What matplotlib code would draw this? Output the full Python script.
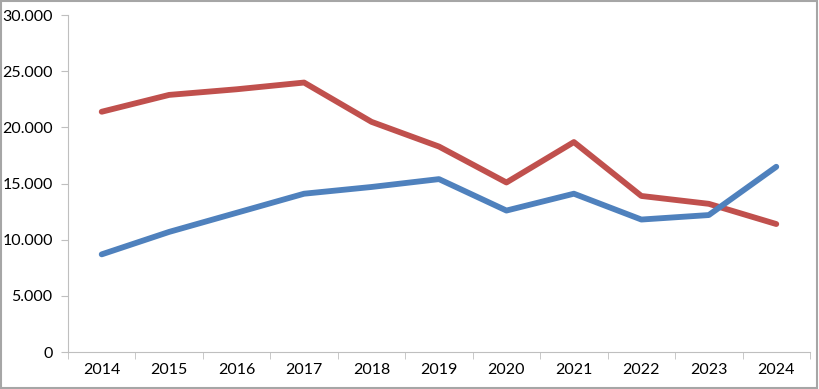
import numpy as np
import matplotlib.pyplot as plt
from matplotlib.ticker import FuncFormatter, FixedLocator

years = ['2014', '2015', '2016', '2017', '2018', '2019', '2020', '2021', '2022', '2023', '2024']
serie_roja = [21400, 22900, 23400, 24000, 20500, 18300, 15100, 18700, 13900, 13200, 11400]
serie_azul = [8700, 10700, 12400, 14100, 14700, 15400, 12600, 14100, 11800, 12200, 16500]
y_ticks = [0, 5000, 10000, 15000, 20000, 25000, 30000]

plt.rcParams['font.family'] = ['Lato', 'DejaVu Sans']

fig = plt.figure(figsize=(8.19, 3.89), dpi=100, facecolor='white')
ax = fig.add_axes([0.083, 0.095, 0.906, 0.866])

x = np.arange(len(years))
ax.plot(x, serie_roja, color='#C0504D', lw=4.2, solid_joinstyle='round', solid_capstyle='round')
ax.plot(x, serie_azul, color='#4F81BD', lw=4.2, solid_joinstyle='round', solid_capstyle='round')

ax.set_xlim(-0.5, len(years) - 0.5)
ax.set_ylim(0, 30000)

ax.set_yticks(y_ticks)
ax.yaxis.set_major_formatter(FuncFormatter(lambda v, p: f'{int(v):,}'.replace(',', '.')))
ax.set_xticks(x)
ax.set_xticklabels(years)
ax.xaxis.set_minor_locator(FixedLocator(np.arange(-0.5, len(years), 1)))

ax.tick_params(axis='x', which='major', length=0, pad=8, labelsize=11.5)
ax.tick_params(axis='x', which='minor', length=5, color='#BFBFBF', direction='out')
ax.tick_params(axis='y', length=5, color='#BFBFBF', labelsize=11.5, pad=6)

for s in ['top', 'right']:
    ax.spines[s].set_visible(False)
for s in ['left', 'bottom']:
    ax.spines[s].set_color('#BFBFBF')

# marco exterior
fig.patches.append(plt.Rectangle((0.001, 0.002), 0.997, 0.995, transform=fig.transFigure,
                                 fill=False, edgecolor='#A6A6A6', lw=1.5))

fig.savefig('out.png', dpi=100)
